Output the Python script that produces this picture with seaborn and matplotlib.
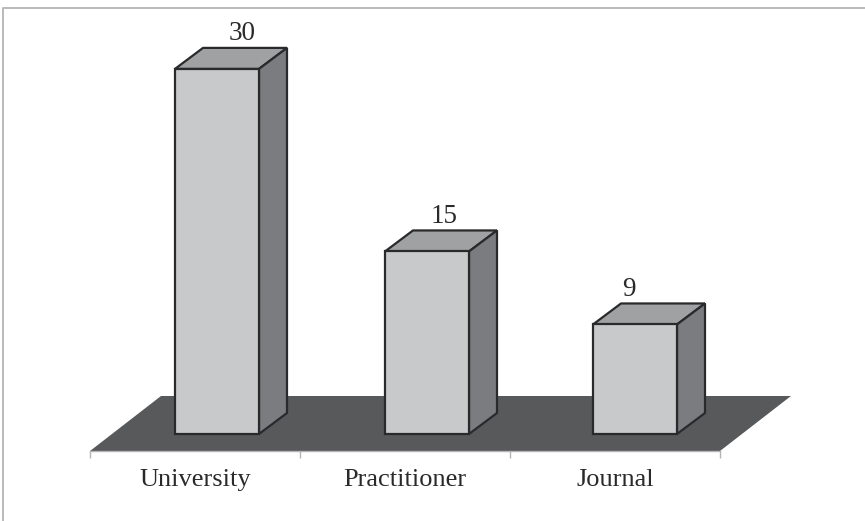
# Grafico de barras 3D: University / Practitioner / Journal
import matplotlib
matplotlib.use('Agg')
import matplotlib.pyplot as plt
import seaborn as sns
import pandas as pd

categorias = ['University', 'Practitioner', 'Journal']
valores = [30, 15, 9]

COR_FRENTE = '#c8c9cb'
COR_TOPO = '#a0a1a3'
COR_LADO = '#7b7c80'
COR_PISO = '#58595b'
COR_BORDA = '#2a2a2c'
COR_LINHA = '#b4b4b4'

sns.set_theme(style='white')
plt.rcParams['font.family'] = ['Liberation Serif', 'DejaVu Serif']

W, H = 865, 521
fig = plt.figure(figsize=(W / 100, H / 100), dpi=100)
# area do eixo em pixels: x 90-720, y 451 ate o topo
ax = fig.add_axes([90 / W, (H - 451) / H, 630 / W, 443 / H])

df = pd.DataFrame({'categoria': categorias, 'valor': valores})
sns.barplot(data=df, x='categoria', y='valor', color=COR_FRENTE, width=0.4,
            saturation=1, edgecolor=COR_BORDA, linewidth=1.6, ax=ax, zorder=4)

escala_y = 12.17  # pixels por unidade
ax.set_xlim(-0.5, 2.5)
ax.set_ylim(-17 / escala_y, 426 / escala_y)

# piso
y0 = ax.get_ylim()[0]
piso_dx, piso_dy = 71 / 210, 55 / escala_y
ax.fill([-0.5, 2.5, 2.5 + piso_dx, -0.5 + piso_dx],
        [y0, y0, y0 + piso_dy, y0 + piso_dy],
        color=COR_PISO, lw=0, zorder=1, clip_on=False)

# profundidade das barras
dx, dy = 28 / 210, 21 / escala_y
desloc = [22 / 210, 22 / 210, 20 / 210]
desloc_rotulo = [11 / 210, 3 / 210, -20 / 210]
for i, (barra, v) in enumerate(zip(ax.patches[:len(valores)], valores)):
    barra.set_x(barra.get_x() + desloc[i])
    x0 = barra.get_x()
    x1 = x0 + barra.get_width()
    ax.fill([x0, x1, x1 + dx, x0 + dx], [v, v, v + dy, v + dy],
            facecolor=COR_TOPO, edgecolor=COR_BORDA, lw=1.6, zorder=3, clip_on=False)
    ax.fill([x1, x1 + dx, x1 + dx, x1], [0, dy, v + dy, v],
            facecolor=COR_LADO, edgecolor=COR_BORDA, lw=1.6, zorder=3, clip_on=False)
    ax.text((x0 + x1 + dx) / 2 + desloc_rotulo[i], v + dy + 0.15, str(v), ha='center',
            va='bottom', fontsize=19.5, color='#2a2a2c', zorder=5)

# eixo x
for lado in ['top', 'left', 'right']:
    ax.spines[lado].set_visible(False)
ax.spines['bottom'].set_color(COR_LINHA)
ax.spines['bottom'].set_linewidth(1)
ax.set_yticks([])
ax.set_xlabel('')
ax.set_ylabel('')
ax.set_xticks(range(len(categorias)))
ax.set_xticklabels(categorias, fontsize=19, color='#2a2a2c')
ax.tick_params(axis='x', which='major', length=0, pad=13)
ax.set_xticks([-0.5, 0.5, 1.5, 2.5], minor=True)
ax.tick_params(axis='x', which='minor', length=5, width=1, color=COR_LINHA, bottom=True)
ax.patch.set_alpha(0)

# moldura
fig.add_artist(plt.Line2D([3 / W, 3 / W, 1], [0, 1 - 8 / H, 1 - 8 / H],
                          color=COR_LINHA, lw=1.3))

fig.savefig('out.png', dpi=100)
